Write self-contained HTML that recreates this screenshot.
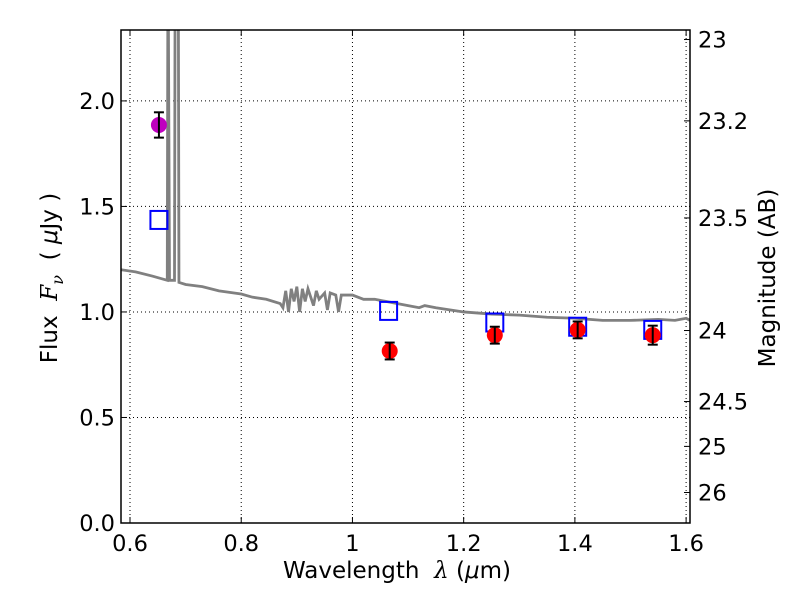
<!DOCTYPE html>
<html><head><meta charset="utf-8"><style>body{margin:0;background:#fff}svg{font-family:"DejaVu Sans","Liberation Sans",sans-serif}</style></head>
<body>
<svg id="chart" width="800" height="600"></svg>
<script>
const specLam=[0.584,0.61,0.64,0.667,0.668,0.669,0.671,0.672,0.68,0.681,0.687,0.688,0.70,0.73,0.76,0.80,0.82,0.845,0.87,0.875,0.88,0.885,0.89,0.895,0.90,0.905,0.91,0.915,0.92,0.93,0.935,0.94,0.95,0.955,0.96,0.97,0.975,0.98,1.0,1.02,1.04,1.06,1.08,1.10,1.12,1.13,1.15,1.2,1.25,1.3,1.35,1.4,1.45,1.5,1.55,1.58,1.6,1.607];
const specFlux=[1.20,1.19,1.17,1.15,2.4,2.4,1.15,1.15,1.15,2.4,2.4,1.14,1.13,1.12,1.10,1.085,1.07,1.06,1.04,1.02,1.10,1.00,1.11,1.05,1.12,1.0,1.11,1.05,1.11,1.03,1.10,1.06,1.09,1.01,1.09,1.08,1.0,1.08,1.08,1.06,1.06,1.05,1.04,1.03,1.02,1.03,1.02,1.00,0.99,0.985,0.975,0.97,0.96,0.96,0.965,0.96,0.97,0.96];
const magLam=[0.652],magFlux=[1.886],magErr=[0.06];
const sqLam=[0.652,1.065,1.256,1.405,1.54],sqFlux=[1.436,1.005,0.95,0.93,0.915];
const redLam=[1.067,1.256,1.405,1.54],redFlux=[0.815,0.89,0.915,0.89],redErr=[0.04,0.04,0.04,0.045];
const xTicks=[0.6,0.8,1.0,1.2,1.4,1.6],xLabels=["0.6","0.8","1","1.2","1.4","1.6"];
const yTicks=[0,0.5,1.0,1.5,2.0],yLabels=["0.0","0.5","1.0","1.5","2.0"];
const magTicks=[23,23.2,23.5,24,24.5,25,26],magLabels=["23","23.2","23.5","24","24.5","25","26"];
const L=121,R=690,T=30,B=523,x0=0.5838,x1=1.607,y0=0,y1=2.336;
const X=v=>L+(v-x0)/(x1-x0)*(R-L), Y=v=>B-(v-y0)/(y1-y0)*(B-T);
const svg=document.getElementById('chart');const NS='http://www.w3.org/2000/svg';
function mk(t,a,p){const e=document.createElementNS(NS,t);for(const k in a)e.setAttribute(k,a[k]);(p||svg).appendChild(e);return e;}
const defs=mk('defs',{});const cp=mk('clipPath',{id:'c'},defs);mk('rect',{x:L,y:T,width:R-L,height:B-T},cp);
const grid=mk('g',{stroke:'#000','stroke-width':1,'stroke-dasharray':'1,3'});

const ax=mk('g',{'font-size':22.5,fill:'#000'});
xTicks.forEach((t,i)=>{const x=X(t);mk('line',{x1:x,x2:x,y1:T,y2:B},grid);mk('line',{x1:x,x2:x,y1:B,y2:B-6,stroke:'#000'},ax);mk('line',{x1:x,x2:x,y1:T,y2:T+6,stroke:'#000'},ax);
const e=mk('text',{x:x,y:B+28,'text-anchor':'middle'},ax);e.textContent=xLabels[i];});
yTicks.forEach((t,i)=>{const y=Y(t);mk('line',{x1:L,x2:R,y1:y,y2:y},grid);mk('line',{x1:L,x2:L+6,y1:y,y2:y,stroke:'#000'},ax);
const e=mk('text',{x:L-6,y:y+8,'text-anchor':'end'},ax);e.textContent=yLabels[i];});
magTicks.forEach((m,i)=>{const f=Math.pow(10,(23.9-m)/2.5);const y=Y(f);mk('line',{x1:R,x2:R-6,y1:y,y2:y,stroke:'#000'},ax);
const e=mk('text',{x:R+8,y:y+8},ax);e.textContent=magLabels[i];});
const pl=mk('g',{'clip-path':'url(#c)'});
const sp=mk('polyline',{points:specLam.map((l,i)=>X(l)+','+Y(specFlux[i])).join(' '),fill:'none',stroke:'#808080','stroke-width':2.8},pl);

sqLam.forEach((l,i)=>{const r=mk('rect',{x:X(l)-8.5,y:Y(sqFlux[i])-9,width:17,height:18,fill:'none',stroke:'#0000ff','stroke-width':2},pl);
});
function pt(l,f,er,col){const c=mk('circle',{cx:X(l),cy:Y(f),r:8,fill:col},pl);
const g=mk('g',{stroke:'#000','stroke-width':2},pl);const x=X(l);mk('line',{x1:x,x2:x,y1:Y(f-er),y2:Y(f+er)},g);
mk('line',{x1:x-5,x2:x+5,y1:Y(f-er),y2:Y(f-er)},g);mk('line',{x1:x-5,x2:x+5,y1:Y(f+er),y2:Y(f+er)},g);}
magLam.forEach((l,i)=>pt(l,magFlux[i],magErr[i],'#bf00bf'));
redLam.forEach((l,i)=>pt(l,redFlux[i],redErr[i],'#ff0000'));
mk('rect',{x:L,y:T,width:R-L,height:B-T,fill:'none',stroke:'#000','stroke-width':1.5});
</script>
<div style="position:absolute;left:0;top:0;width:800px;height:600px;pointer-events:none;font-family:'DejaVu Sans','Liberation Sans',sans-serif;font-size:23px">
<div style="position:absolute;left:283px;top:558px;white-space:nowrap">Wavelength &nbsp;<i style="font-family:'DejaVu Serif',serif">λ</i> (<i>μ</i>m)</div>
<div style="position:absolute;left:52px;top:278px;transform:translate(-50%,-50%) rotate(-90deg);white-space:nowrap">Flux &nbsp;<i style="font-family:'DejaVu Serif',serif">F<sub style="font-size:16px">ν</sub></i> &nbsp;( <i>μ</i>Jy )</div>
<div style="position:absolute;left:768px;top:278px;transform:translate(-50%,-50%) rotate(-90deg);white-space:nowrap">Magnitude (AB)</div>
</div>
</body></html>
